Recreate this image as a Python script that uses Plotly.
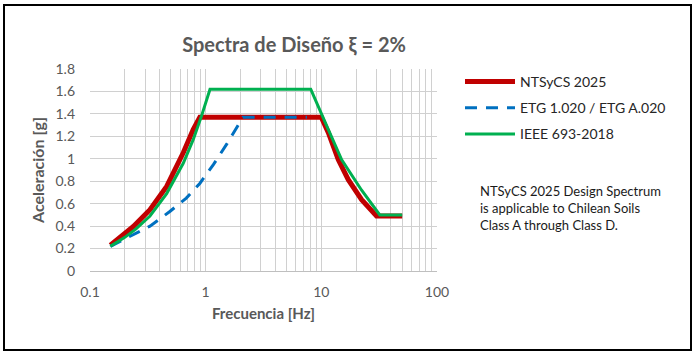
import plotly.graph_objects as go

# NTSyCS 2025
red_f = [0.15, 0.2, 0.237, 0.33, 0.46, 0.64, 0.78, 0.89, 10.0, 11.5, 14.0, 17.1, 22.3, 30.0, 50.0]
red_a = [0.23, 0.33, 0.396, 0.546, 0.754, 1.053, 1.261, 1.37, 1.37, 1.232, 0.993, 0.814, 0.635, 0.49, 0.49]

# ETG 1.020 / ETG A.020
blue_f = [0.15, 0.22, 0.33, 0.49, 0.68, 0.89, 1.17, 1.52, 1.98, 2.1, 7.5]
blue_a = [0.22, 0.31, 0.40, 0.53, 0.65, 0.78, 0.95, 1.13, 1.335, 1.37, 1.37]

# IEEE 693-2018
green_f = [0.15, 0.2, 0.25, 0.33, 0.46, 0.64, 0.78, 0.92, 1.09, 8.1, 11.5, 15.0, 22.3, 32.0, 50.0]
green_a = [0.22, 0.30, 0.375, 0.49, 0.69, 0.96, 1.17, 1.38, 1.62, 1.62, 1.26, 0.99, 0.72, 0.50, 0.50]

names = ["NTSyCS 2025", "ETG 1.020 / ETG A.020", "IEEE 693-2018"]
x_ticks = [0.1, 1, 10, 100]
x_ticktext = ["0.1", "1", "10", "100"]

FONT = "Lato"
GRAY = "#595959"

fig = go.Figure()
fig.add_trace(go.Scatter(x=red_f, y=red_a, mode="lines", name=names[0],
                         line=dict(color="#C00000", width=5), legendgroup="a"))
fig.add_trace(go.Scatter(x=blue_f, y=blue_a, mode="lines", name=names[1],
                         line=dict(color="#0070C0", width=3, dash="12px,9px"), legendgroup="b"))
fig.add_trace(go.Scatter(x=green_f, y=green_a, mode="lines", name=names[2],
                         line=dict(color="#00B050", width=3), legendgroup="c"))

L, R, T, B = 90, 437, 69, 271
W, H = 700, 355

def px_x(p):
    return (p - L) / (R - L)

def px_y(p):
    return (B - p) / (B - T)

fig.update_layout(
    width=W, height=H,
    margin=dict(l=L, r=W - R, t=T, b=H - B, pad=0),
    paper_bgcolor="white", plot_bgcolor="white",
    font=dict(family=FONT, size=13, color=GRAY),
    title=dict(text="Spectra de Diseño ξ = 2%", x=px_x(294), xref="paper", xanchor="center",
               y=1 - 45 / H, yref="container", yanchor="middle",
               font=dict(family=FONT, size=20, color=GRAY, weight="bold")),
    showlegend=True,
    legend=dict(x=px_x(460), y=px_y(66), xanchor="left", yanchor="top",
                font=dict(family=FONT, size=14, color="#262626"),
                itemwidth=50, tracegroupgap=5, bgcolor="rgba(0,0,0,0)"),
    xaxis=dict(type="log", range=[-1, 2], tickvals=x_ticks, ticktext=x_ticktext,
               showgrid=True, gridcolor="#D0D0D0", gridwidth=1,
               minor=dict(showgrid=True, gridcolor="#D0D0D0", gridwidth=1, dtick="D1"),
               showline=True, linecolor="#BFBFBF", linewidth=1, mirror=False,
               ticks="", ticklabelstandoff=8, zeroline=False, automargin=False,
               tickfont=dict(family=FONT, size=14, color=GRAY),
               title=dict(text="Frecuencia [Hz]", standoff=9,
                          font=dict(family=FONT, size=15, color=GRAY, weight="bold"))),
    yaxis=dict(range=[0, 1.8], dtick=0.2, tick0=0,
               showgrid=True, gridcolor="#D0D0D0", gridwidth=1,
               showline=False, zeroline=True, zerolinecolor="#BFBFBF", zerolinewidth=1,
               ticks="", ticklabelstandoff=14, automargin=False,
               tickfont=dict(family=FONT, size=14, color=GRAY),
               title=dict(text="Aceleración [g]", standoff=6,
                          font=dict(family=FONT, size=16, color=GRAY, weight="bold"))),
)

fig.add_annotation(
    text="NTSyCS 2025 Design Spectrum<br>is applicable to Chilean Soils<br>Class A through Class D.",
    xref="paper", yref="paper", x=px_x(478), y=px_y(181), xanchor="left", yanchor="top",
    align="left", showarrow=False,
    font=dict(family=FONT, size=13, color="#1a1a1a"))

# outer chart frame
fig.add_shape(type="rect", xref="paper", yref="paper",
              x0=px_x(4), x1=px_x(691), y0=px_y(350), y1=px_y(5),
              line=dict(color="black", width=2), layer="above")

fig.write_html("out.html", config={"displayModeBar": False},
               post_script="document.body.style.margin='0';")
